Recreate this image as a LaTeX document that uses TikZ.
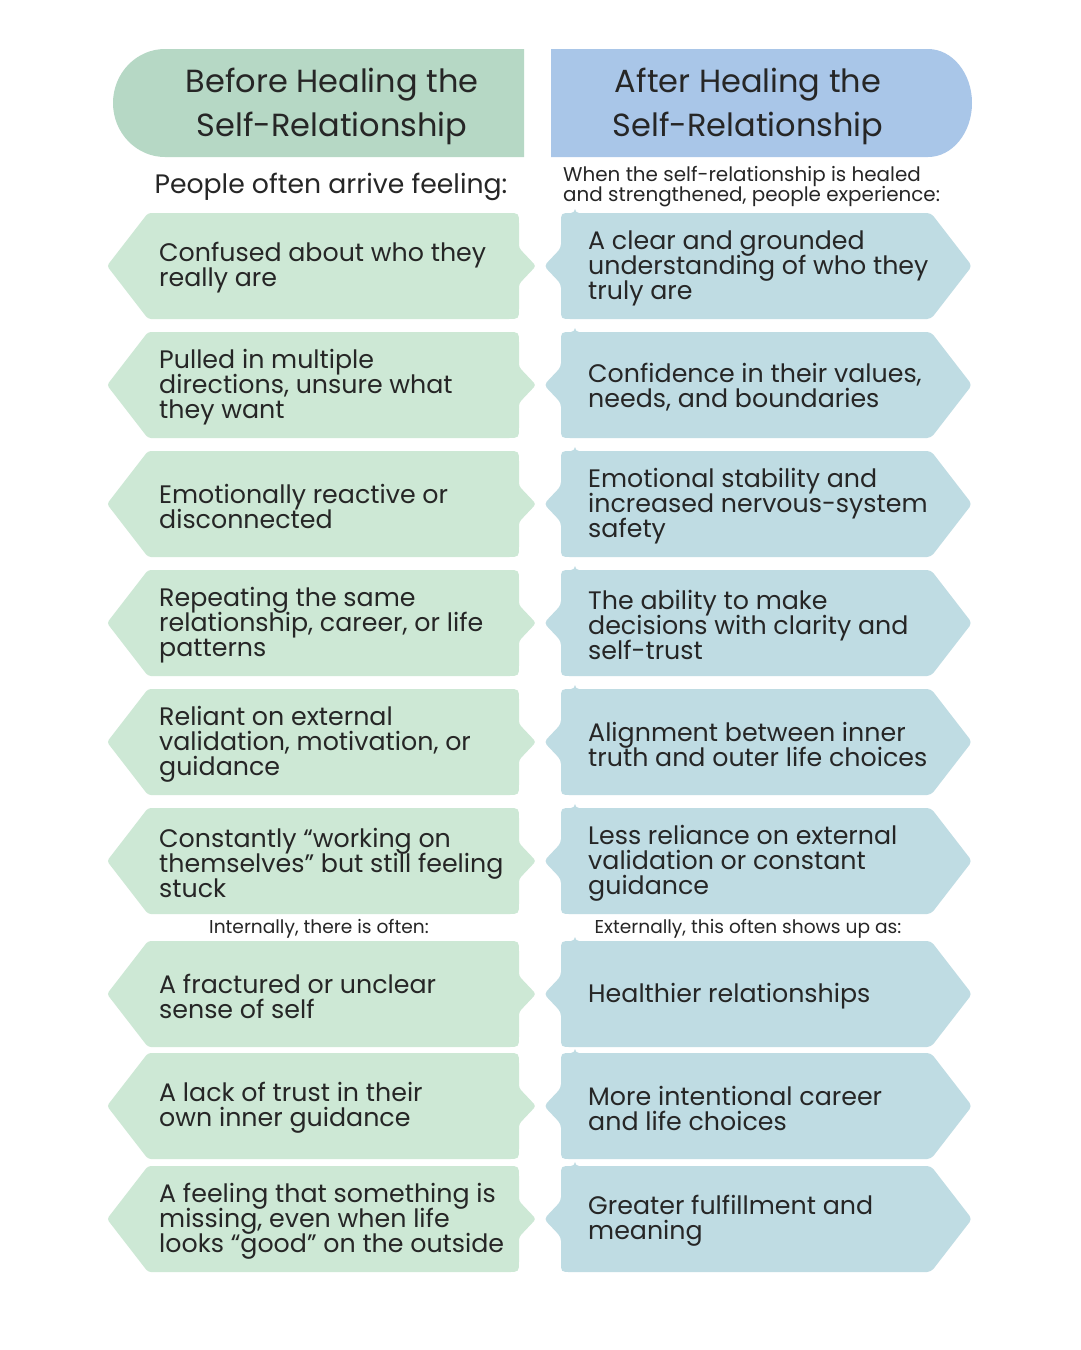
\documentclass[tikz,border=0pt]{standalone}
\usepackage{fontspec}
\setmainfont{Poppins}
\definecolor{hdrL}{HTML}{B6D8C5}
\definecolor{hdrR}{HTML}{A9C6E8}
\definecolor{cardL}{HTML}{CDE8D5}
\definecolor{cardR}{HTML}{BFDCE3}
\definecolor{ink}{HTML}{262626}
\newcommand\tightlns{\lineskiplimit-30pt\lineskip0pt\relax}
\tikzset{
  cardtext/.style={anchor=west, align=left, inner sep=0pt, text=ink, font={\fontsize{25.3}{25}\selectfont\tightlns}},
  hdrtext/.style={align=center, inner sep=0pt, text=ink, font={\fontsize{32}{44}\selectfont\tightlns}},
  subtext/.style={inner sep=0pt, text=ink, font={\fontsize{26.7}{30}\selectfont}},
  introtext/.style={anchor=north west, align=left, inner sep=0pt, text=ink, font={\fontsize{19.9}{20}\selectfont\tightlns}},
  smalltext/.style={inner sep=0pt, text=ink, font={\fontsize{18.6}{20}\selectfont}},
}
\newcommand\leftcard[3]{%
  \fill[cardL, rounded corners=3] (148,#2) -- (505,#2) .. controls (519,#2) .. (519,{#2+14})
    -- (519,{#2+35}) -- (536,{#2+53}) -- (519,{#2+71}) -- (519,{#2+92})
    .. controls (519,{#2+106}) .. (505,{#2+106}) -- (148,{#2+106}) -- (107,{#2+53}) -- cycle;
  \node[cardtext] (#1) at (159,{#2+55}) {#3};
}
\newcommand\rightcard[3]{%
  \fill[cardR, rounded corners=4] (575,#2) -- (931,#2) -- (972,{#2+53}) -- (931,{#2+106}) -- (575,{#2+106})
    .. controls (561,{#2+106}) .. (561,{#2+92}) -- (561,{#2+71}) -- (544,{#2+53}) -- (561,{#2+35})
    -- (561,{#2+14}) .. controls (561,#2) .. (575,#2) -- cycle;
  \node[cardtext] (#1) at (588,{#2+55}) {#3};
}
\begin{document}
\begin{tikzpicture}[x=1pt,y=-1pt]
\useasboundingbox (0,0) rectangle (1080,1350);
\fill[white] (0,0) rectangle (1080,1350);
% headers
\fill[hdrL] (165,49) -- (524,49) -- (524,157) -- (165,157)
  .. controls (136.3,157) and (113,132.8) .. (113,103)
  .. controls (113,73.2) and (136.3,49) .. (165,49) -- cycle;
\node[hdrtext] (hL) at (332,106) {Before Healing the\\Self-Relationship};
\fill[hdrR] (551,49) -- (928,49)
  .. controls (952.3,49) and (972,73.2) .. (972,103)
  .. controls (972,132.8) and (952.3,157) .. (928,157) -- (551,157) -- cycle;
\node[hdrtext] (hR) at (748,106) {After Healing the\\Self-Relationship};
% sub headings
\node[subtext] (sL) at (331,187) {People often arrive feeling:};
\node[introtext] (sR) at (563,166) {When the self-relationship is healed\\and strengthened, people experience:};
% cards
\leftcard{L1}{213}{Confused about who they\\really are}
\leftcard{L2}{332}{Pulled in multiple\\directions, unsure what\\they want}
\leftcard{L3}{451}{Emotionally reactive or\\disconnected}
\leftcard{L4}{570}{Repeating the same\\relationship, career, or life\\patterns}
\leftcard{L5}{689}{Reliant on external\\validation, motivation, or\\guidance}
\leftcard{L6}{808}{Constantly “working on\\themselves” but still feeling\\stuck}
\rightcard{R1}{213}{A clear and grounded\\understanding of who they\\truly are}
\rightcard{R2}{332}{Confidence in their values,\\needs, and boundaries}
\rightcard{R3}{451}{Emotional stability and\\increased nervous-system\\safety}
\rightcard{R4}{570}{The ability to make\\decisions with clarity and\\self-trust}
\rightcard{R5}{689}{Alignment between inner\\truth and outer life choices}
\rightcard{R6}{808}{Less reliance on external\\validation or constant\\guidance}
\node[smalltext] (iL) at (319,929) {Internally, there is often:};
\node[smalltext] (iR) at (748,929) {Externally, this often shows up as:};
\leftcard{L7}{941}{A fractured or unclear\\sense of self}
\leftcard{L8}{1053}{A lack of trust in their\\own inner guidance}
\leftcard{L9}{1166}{A feeling that something is\\missing, even when life\\looks “good” on the outside}
\rightcard{R7}{941}{Healthier relationships}
\rightcard{R8}{1053}{More intentional career\\and life choices}
\rightcard{R9}{1166}{Greater fulfillment and\\meaning}
\end{tikzpicture}
\end{document}
